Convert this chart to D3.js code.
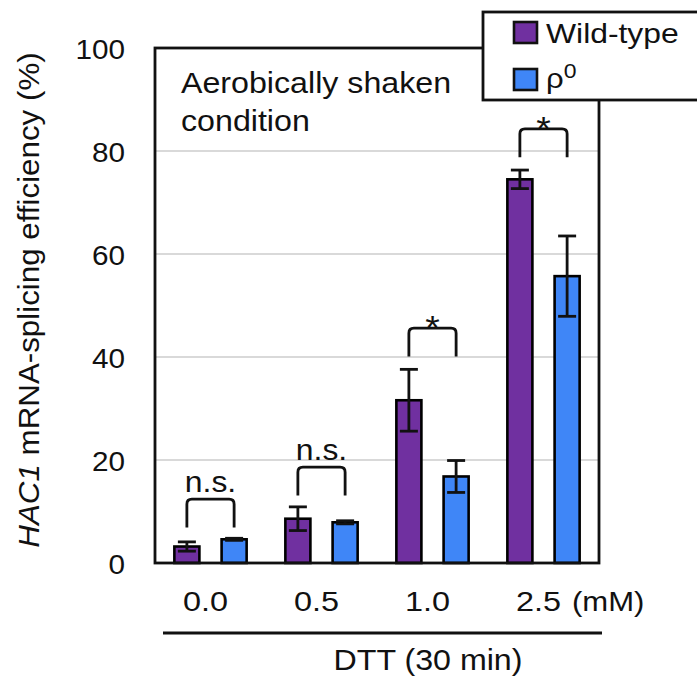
<!DOCTYPE html>
<html>
<head>
<meta charset="utf-8">
<script src="https://cdn.jsdelivr.net/npm/d3@7"></script>
<style>
  body { margin: 0; background: #fff; }
  text { font-family: "Liberation Sans", Arial, sans-serif; fill: #111; }
</style>
</head>
<body>
<div id="chart"></div>
<script>
// values
var groups = ["0.0", "0.5", "1.0", "2.5"];
var seriesNames = ["Wild-type", "ρ0"];
var wildType = [3.2, 8.6, 31.6, 74.5];
var wildTypeErr = [0.9, 2.3, 6.0, 1.8];
var rho0 = [4.6, 7.9, 16.8, 55.7];
var rho0Err = [0.2, 0.3, 3.1, 7.8];
var sigLabels = ["n.s.", "n.s.", "*", "*"];
var sigLevels = [12.4, 18.6, 45.6, 84.3];
var yTicks = [0, 20, 40, 60, 80, 100];

var colors = ["#7030a0", "#3f86f7"];

var width = 697, height = 677;
var plot = { left: 155, right: 599, top: 48, bottom: 563 };

var svg = d3.select("#chart").append("svg")
    .attr("width", width)
    .attr("height", height);

var x = d3.scaleBand()
    .domain(groups)
    .range([plot.left, plot.right]);

var x1 = d3.scaleBand()
    .domain([0, 1])
    .range([0, x.bandwidth()])
    .paddingInner(0.47)
    .paddingOuter(0.41);

var y = d3.scaleLinear()
    .domain([0, 100])
    .range([plot.bottom, plot.top]);

// text helper, the figure's lettering is a bit wider than the font
function label(g, str, px, py, size, sx, anchor) {
    return g.append("text")
        .attr("transform", "translate(" + px + "," + py + ") scale(" + sx + ",1)")
        .attr("text-anchor", anchor || "start")
        .style("font-size", size + "px")
        .text(str);
}

// gridlines
svg.append("g")
    .selectAll("line")
    .data(yTicks.filter(function (d) { return d > 0 && d < 100; }))
    .enter().append("line")
    .attr("x1", plot.left).attr("x2", plot.right)
    .attr("y1", function (d) { return y(d); })
    .attr("y2", function (d) { return y(d); })
    .attr("stroke", "#d9d9d9")
    .attr("stroke-width", 2);

// y axis labels
var yAxis = svg.append("g")
    .attr("transform", "translate(" + plot.left + ",0)")
    .call(d3.axisLeft(y).tickValues(yTicks).tickSize(0).tickPadding(0));
yAxis.select(".domain").remove();
yAxis.selectAll("text")
    .attr("x", null).attr("dy", null)
    .attr("transform", "translate(-30,10) scale(1.1,1)")
    .attr("text-anchor", "end")
    .style("font-size", "27px")
    .style("font-family", null);

// bars
var rows = groups.map(function (g, i) {
    return [
        { group: g, s: 0, value: wildType[i], err: wildTypeErr[i] },
        { group: g, s: 1, value: rho0[i], err: rho0Err[i] }
    ];
});

var barG = svg.append("g").selectAll("g")
    .data(rows)
    .enter().append("g")
    .attr("transform", function (d, i) { return "translate(" + x(groups[i]) + ",0)"; });

barG.selectAll("rect")
    .data(function (d) { return d; })
    .enter().append("rect")
    .attr("x", function (d) { return x1(d.s); })
    .attr("width", x1.bandwidth())
    .attr("y", function (d) { return y(d.value); })
    .attr("height", function (d) { return y(0) - y(d.value); })
    .attr("fill", function (d) { return colors[d.s]; })
    .attr("stroke", "#000")
    .attr("stroke-width", 2.6);

// error bars
var errG = barG.selectAll("g.err")
    .data(function (d) { return d; })
    .enter().append("g")
    .attr("class", "err")
    .attr("stroke", "#111")
    .attr("stroke-width", 2.8);
errG.append("line")
    .attr("x1", function (d) { return x1(d.s) + x1.bandwidth() / 2; })
    .attr("x2", function (d) { return x1(d.s) + x1.bandwidth() / 2; })
    .attr("y1", function (d) { return y(d.value + d.err); })
    .attr("y2", function (d) { return y(d.value - d.err); });
[1, -1].forEach(function (sgn) {
    errG.append("line")
        .attr("x1", function (d) { return x1(d.s) + x1.bandwidth() / 2 - 9; })
        .attr("x2", function (d) { return x1(d.s) + x1.bandwidth() / 2 + 9; })
        .attr("y1", function (d) { return y(d.value + sgn * d.err); })
        .attr("y2", function (d) { return y(d.value + sgn * d.err); });
});

// significance brackets
groups.forEach(function (g, i) {
    var xa = x(g) + x1(0) + x1.bandwidth() / 2;
    var xb = x(g) + x1(1) + x1.bandwidth() / 2;
    var yt = y(sigLevels[i]);
    var yb = y(sigLevels[i] - 5.5);
    var r = 5;
    svg.append("path")
        .attr("d", "M" + xa + "," + yb + "L" + xa + "," + (yt + r) +
            "Q" + xa + "," + yt + " " + (xa + r) + "," + yt +
            "L" + (xb - r) + "," + yt +
            "Q" + xb + "," + yt + " " + xb + "," + (yt + r) +
            "L" + xb + "," + yb)
        .attr("fill", "none")
        .attr("stroke", "#111")
        .attr("stroke-width", 2.8);
    if (sigLabels[i] == "*") {
        label(svg, "*", (xa + xb) / 2, yt + 11, 34, 1.1, "middle");
    } else {
        label(svg, sigLabels[i], (xa + xb) / 2, yt - 7, 29, 1.1, "middle");
    }
});

// plot frame
svg.append("rect")
    .attr("x", plot.left).attr("y", plot.top)
    .attr("width", plot.right - plot.left)
    .attr("height", plot.bottom - plot.top)
    .attr("fill", "none")
    .attr("stroke", "#111")
    .attr("stroke-width", 2.8);

// x labels
var xAxis = svg.append("g")
    .attr("transform", "translate(0," + plot.bottom + ")")
    .call(d3.axisBottom(x).tickSize(0).tickPadding(0));
xAxis.select(".domain").remove();
xAxis.selectAll("text")
    .attr("y", null).attr("dy", null)
    .attr("transform", "translate(-5,48) scale(1.2,1)")
    .style("font-size", "27px")
    .style("font-family", null);
label(svg, "(mM)", 572, 611, 27, 1.15);

svg.append("line")
    .attr("x1", 163).attr("x2", 602)
    .attr("y1", 633).attr("y2", 633)
    .attr("stroke", "#111").attr("stroke-width", 2.8);
label(svg, "DTT (30 min)", 428, 670, 29, 1.11, "middle");

// condition note
label(svg, "Aerobically shaken", 181, 93, 29, 1.11);
label(svg, "condition", 181, 131, 29, 1.11);

// y title
var yt = svg.append("text")
    .attr("transform", "translate(39,300) rotate(-90) scale(1.08,1)")
    .attr("text-anchor", "middle")
    .style("font-size", "29px");
yt.append("tspan").style("font-style", "italic").text("HAC1");
yt.append("tspan").text(" mRNA-splicing efficiency (%)");

// legend
var legend = svg.append("g");
legend.append("rect")
    .attr("x", 483).attr("y", 12)
    .attr("width", 230).attr("height", 88)
    .attr("fill", "#fff")
    .attr("stroke", "#111")
    .attr("stroke-width", 2.8);
seriesNames.forEach(function (s, i) {
    legend.append("rect")
        .attr("x", 514).attr("y", 22 + i * 47)
        .attr("width", 23).attr("height", 21)
        .attr("fill", colors[i])
        .attr("stroke", "#111")
        .attr("stroke-width", 2.6);
});
label(legend, "Wild-type", 546, 43, 27, 1.18);
var rho = label(legend, "ρ", 546, 88, 27, 1.15);
rho.append("tspan").attr("dy", -10).style("font-size", "20px").text("0");
</script>
</body>
</html>
